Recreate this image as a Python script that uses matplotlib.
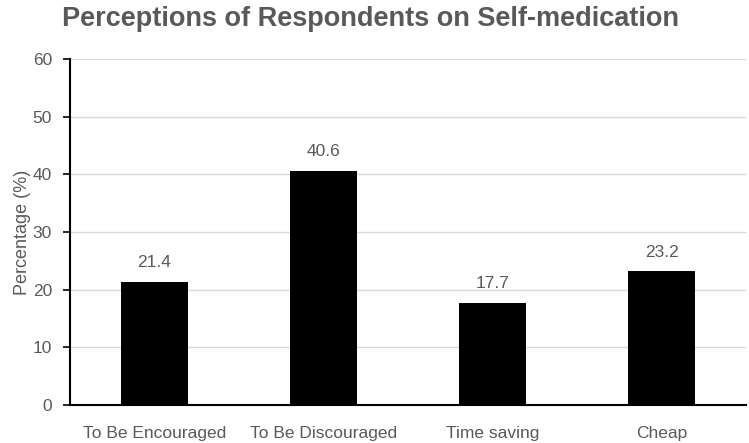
import matplotlib
matplotlib.use('Agg')
import matplotlib.pyplot as plt

categories = ['To Be Encouraged', 'To Be Discouraged', 'Time saving', 'Cheap']
values = [21.4, 40.6, 17.7, 23.2]
yticks = [0, 10, 20, 30, 40, 50, 60]

grey = '#595959'
plt.rcParams['font.family'] = ['Liberation Sans Narrow', 'Liberation Sans', 'DejaVu Sans']

fig = plt.figure(figsize=(7.49, 4.43), dpi=100)
ax = fig.add_axes([0.0935, 0.0858, 0.9025, 0.781])

x = range(len(categories))
bars = ax.bar(x, values, width=0.4, color='black', zorder=3)
for b, v in zip(bars, values):
    ax.text(b.get_x() + b.get_width() / 2, v + 2.0, '%.1f' % v,
            ha='center', va='bottom', fontsize=12.5, color=grey)

ax.set_xlim(-0.5, len(categories) - 0.5)
ax.set_ylim(0, 60)
ax.set_yticks(yticks)
ax.set_xticks(list(x))
ax.set_xticklabels(categories)
ax.yaxis.grid(True, color='#d9d9d9', linewidth=1, zorder=0)
ax.tick_params(axis='y', colors=grey, labelsize=12.5, length=5, width=1.2,
               color='black', pad=8)
ax.tick_params(axis='x', colors=grey, labelsize=12.5, length=0, pad=15)
for s in ['top', 'right']:
    ax.spines[s].set_visible(False)
ax.spines['left'].set_linewidth(1.5)
ax.spines['bottom'].set_linewidth(1.5)
ax.spines['left'].set_color('black')
ax.spines['bottom'].set_color('black')
ax.set_ylabel('Percentage (%)', fontsize=13, color=grey, labelpad=1)

fig.text(0.083, 0.958, 'Perceptions of Respondents on Self-medication',
         fontsize=19.5, fontweight='bold', color=grey, va='center', ha='left')

fig.savefig('out.png', dpi=100)
